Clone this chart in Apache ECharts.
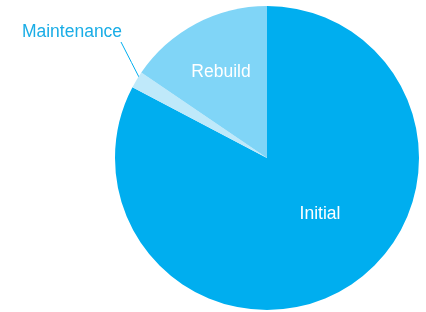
<!DOCTYPE html>
<html><head><meta charset="utf-8">
<script src="https://cdn.jsdelivr.net/npm/echarts@6/dist/echarts.min.js"></script>
<style>html,body{margin:0;padding:0;background:#fff}#c{width:426px;height:312px}</style>
</head><body><div id="c"></div>
<script>
const categories = ['Initial', 'Maintenance', 'Rebuild'];
const values = [82.7, 1.8, 15.5];
const colors = ['#00AEEF', '#BFE9FA', '#80D5F7'];

const chart = echarts.init(document.getElementById('c'), null, {renderer: 'canvas'});
const labelPos = {
  0: {x: 320, y: 214},
  1: {x: 72, y: 32, line: [[142, 83], [131.5, 62.5], [121, 42]]},
  2: {x: 221, y: 72}
};
chart.setOption({
  animation: false,
  series: [{
    type: 'pie',
    center: [267, 158],
    radius: 152,
    startAngle: 90,
    clockwise: true,
    avoidLabelOverlap: false,
    itemStyle: {borderWidth: 0},
    data: categories.map((n, i) => ({
      name: n,
      value: values[i],
      itemStyle: {color: colors[i]},
      label: i === 1 ? {show: true, position: 'outside', color: '#1AADE6'} : {show: true, position: 'inside', color: '#fff'},
      labelLine: {show: i === 1, length: 10, length2: 10, smooth: false, lineStyle: {color: '#00AEEF', width: 1}}
    })),
    label: {
      formatter: '{b}',
      fontFamily: 'Liberation Sans, Arial, sans-serif',
      fontSize: 17.5
    },
    labelLayout: function (p) {
      const L = labelPos[p.dataIndex];
      const r = {x: L.x, y: L.y, align: 'center', verticalAlign: 'middle'};
      if (L.line) r.labelLinePoints = L.line;
      return r;
    }
  }]
});
</script></body></html>
